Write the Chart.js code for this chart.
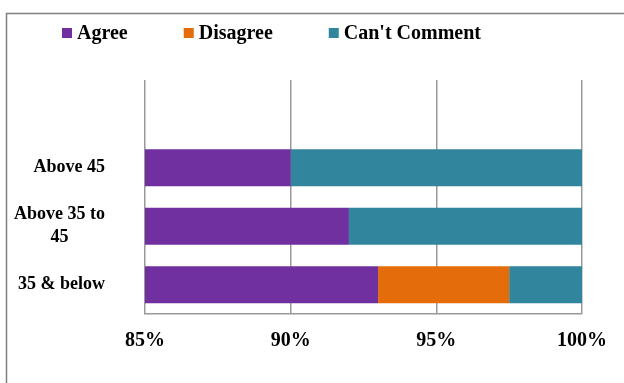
<!DOCTYPE html>
<html>
<head>
<meta charset="utf-8">
<script src="https://cdn.jsdelivr.net/npm/chart.js@4/dist/chart.umd.min.js"></script>
<style>
  html, body { margin: 0; padding: 0; background: #fff; }
  #wrap { position: relative; width: 624px; height: 383px; }
</style>
</head>
<body>
<div id="wrap"><canvas id="chart"></canvas></div>
<script>
// categories, top to bottom (first slot is left empty like the original)
const groups = ["", "Above 45", ["Above 35 to", "45"], "35 & below"]
const agree = [null, 90, 92, 93]
const disagree = [null, 0, 0, 4.5]
const cantComment = [null, 10, 8, 2.5]
const xTicks = [85, 90, 95, 100]

const FONT = "'Liberation Serif', 'Times New Roman', serif"

// frame + legend drawn by hand so spacing matches the original
const decor = {
  id: "decor",
  afterDraw(chart) {
    const ctx = chart.ctx
    ctx.save()
    ctx.strokeStyle = "#808080"
    ctx.lineWidth = 1.5
    ctx.beginPath()
    ctx.moveTo(6.5, 383)
    ctx.lineTo(6.5, 13.5)
    ctx.lineTo(624, 13.5)
    ctx.stroke()

    // legend
    ctx.font = "bold 20px " + FONT
    ctx.textBaseline = "middle"
    ctx.textAlign = "left"
    let x = 62
    const y = 33
    chart.data.datasets.forEach(ds => {
      ctx.fillStyle = ds.backgroundColor
      ctx.fillRect(x, y - 5, 10, 10)
      ctx.fillStyle = "#000"
      ctx.fillText(ds.label, x + 15, y + 1)
      x += 15 + ctx.measureText(ds.label).width + 56
    })

    // category labels: block right aligned, lines centred in the block
    const yScale = chart.scales.y
    ctx.font = "bold 18px " + FONT
    ctx.textAlign = "center"
    groups.forEach((g, i) => {
      const lines = Array.isArray(g) ? g : [g]
      if (!lines[0]) return
      const w = Math.max(...lines.map(l => ctx.measureText(l).width))
      const cx = 105 - w / 2
      const cy = yScale.getPixelForValue(i)
      const lh = 23
      lines.forEach((l, k) => {
        ctx.fillText(l, cx, cy + (k - (lines.length - 1) / 2) * lh)
      })
    })
    ctx.restore()
  }
}

new Chart(document.querySelector("#chart"), {
  type: "bar",
  data: {
    labels: groups,
    datasets: [
      { label: "Agree", data: agree, backgroundColor: "#7030A0" },
      { label: "Disagree", data: disagree, backgroundColor: "#E46C0A" },
      { label: "Can't Comment", data: cantComment, backgroundColor: "#31859C" }
    ]
  },
  options: {
    indexAxis: "y",
    responsive: true,
    maintainAspectRatio: false,
    animation: false,
    layout: { padding: { top: 80, right: 42, bottom: 15, left: 0 } },
    datasets: {
      bar: { categoryPercentage: 1, barPercentage: 0.63, borderWidth: 0 }
    },
    plugins: {
      legend: { display: false },
      tooltip: { enabled: false }
    },
    scales: {
      x: {
        stacked: true,
        min: 85,
        max: 100,
        afterBuildTicks: axis => { axis.ticks = xTicks.map(v => ({ value: v })) },
        grid: { color: "#999", lineWidth: 1.5, drawTicks: false },
        border: { display: true, color: "#999", width: 1.5 },
        ticks: {
          padding: 15,
          color: "#000",
          font: { family: FONT, size: 20, weight: "bold" },
          callback: v => v + "%"
        }
      },
      y: {
        stacked: true,
        afterFit: axis => { axis.width = 145 },
        grid: { display: false },
        border: { display: false },
        ticks: { display: false }
      }
    }
  },
  plugins: [decor]
})
</script>
</body>
</html>
